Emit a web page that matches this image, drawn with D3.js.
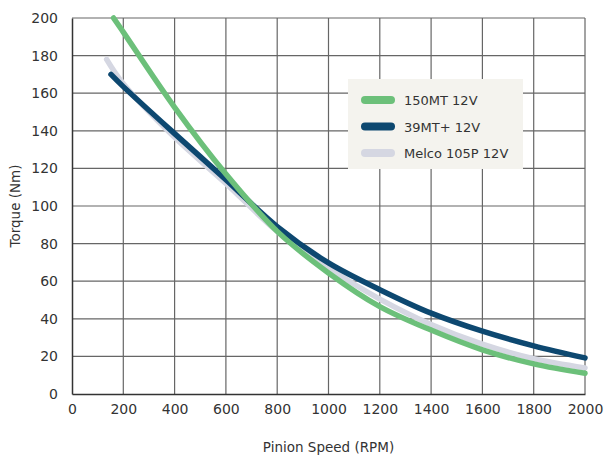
<!DOCTYPE html>
<html>
<head>
<meta charset="utf-8">
<script src="https://cdn.jsdelivr.net/npm/d3@7"></script>
<style>
  body { margin: 0; background: #fff; }
  text { font-family: "DejaVu Sans", sans-serif; fill: #333; }
</style>
</head>
<body>
<svg id="chart" width="610" height="455"></svg>
<script>
// data
var seriesNames = ["150MT 12V", "39MT+ 12V", "Melco 105P 12V"];
var seriesColors = ["#6cc07a", "#0d4870", "#d5d7e2"];
var green150 = [[162,200],[200,192.5],[400,152.5],[600,117],[800,86.5],[1000,64.4],[1200,46.5],[1400,34],[1600,23.5],[1800,16],[2000,11]];
var navy39 = [[152,170],[200,163.5],[400,138.5],[600,114],[800,89],[1000,69.7],[1200,55.5],[1400,43],[1600,33.4],[1800,25.6],[2000,19.2]];
var melco105 = [[135,178],[200,165],[400,136.5],[600,112],[800,86.5],[1000,67],[1200,50.5],[1400,37],[1600,26.5],[1800,18.8],[2000,13.9]];
var xTicks = d3.range(0, 2001, 200);
var yTicks = d3.range(0, 201, 20);

var margin = {left: 72, top: 18, right: 25, bottom: 61};
var W = 610, H = 455;
var svg = d3.select("#chart");

var x = d3.scaleLinear().domain([0, 2000]).range([margin.left, W - margin.right]);
var y = d3.scaleLinear().domain([0, 200]).range([H - margin.bottom, margin.top]);

// grid
svg.append("g").selectAll("line").data(xTicks.slice(1)).enter().append("line")
	.attr("x1", function(d){ return x(d); }).attr("x2", function(d){ return x(d); })
	.attr("y1", y(0)).attr("y2", y(200))
	.attr("stroke", "#666").attr("stroke-width", 1.2);
svg.append("g").selectAll("line").data(yTicks.slice(1)).enter().append("line")
	.attr("x1", x(0)).attr("x2", x(2000))
	.attr("y1", function(d){ return y(d); }).attr("y2", function(d){ return y(d); })
	.attr("stroke", "#666").attr("stroke-width", 1.2);

// axes
var xAxis = svg.append("g").attr("transform", "translate(0," + y(0) + ")")
	.call(d3.axisBottom(x).tickValues(xTicks).tickFormat(d3.format("d")).tickSize(0).tickPadding(10));
var yAxis = svg.append("g").attr("transform", "translate(" + x(0) + ",0)")
	.call(d3.axisLeft(y).tickValues(yTicks).tickFormat(d3.format("d")).tickSize(0).tickPadding(14));
[xAxis, yAxis].forEach(function(a){
	a.select(".domain").attr("stroke", "#333").attr("stroke-width", 1.5);
	a.selectAll("text").style("font-size", "14px").style("fill", "#333")
		.style("font-family", "'DejaVu Sans', sans-serif");
});

svg.append("text").attr("x", (x(0) + x(2000)) / 2).attr("y", 452)
	.attr("text-anchor", "middle").style("font-size", "13.5px").text("Pinion Speed (RPM)");
svg.append("text").attr("transform", "translate(20," + (y(100)) + ") rotate(-90)")
	.attr("text-anchor", "middle").style("font-size", "13.5px").text("Torque (Nm)");

// curves
var line = d3.line()
	.x(function(d){ return x(d[0]); })
	.y(function(d){ return y(d[1]); })
	.curve(d3.curveCatmullRom.alpha(0.5));

var series = [melco105, navy39, green150];
var order = [2, 1, 0];
series.forEach(function(s, i){
	svg.append("path").datum(s)
		.attr("d", line)
		.attr("fill", "none")
		.attr("stroke", seriesColors[order[i]])
		.attr("stroke-width", 5.5)
		.attr("stroke-linecap", "round")
		.attr("stroke-linejoin", "round");
});

// legend
var lg = svg.append("g").attr("transform", "translate(348,79)");
lg.append("rect").attr("width", 175).attr("height", 90).attr("fill", "#f4f3ee");
seriesNames.forEach(function(n, i){
	var cy = 21 + i * 26.5;
	lg.append("line").attr("x1", 17).attr("x2", 43).attr("y1", cy).attr("y2", cy)
		.attr("stroke", seriesColors[i]).attr("stroke-width", 8).attr("stroke-linecap", "round");
	lg.append("text").attr("x", 56).attr("y", cy + 5).style("font-size", "13px").text(n);
});
</script>
</body>
</html>
